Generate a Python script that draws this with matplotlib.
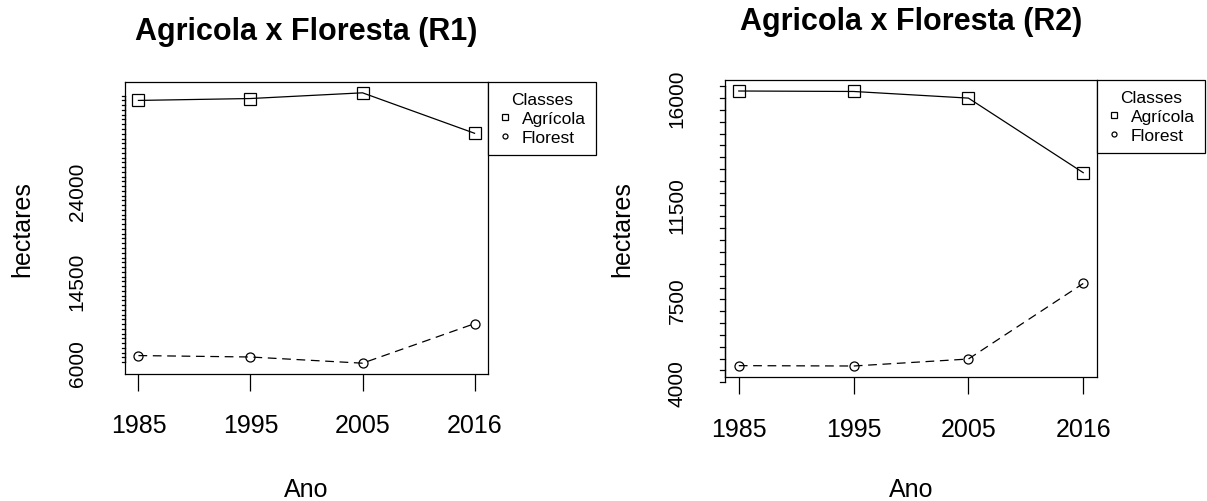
import matplotlib
matplotlib.use("Agg")
import matplotlib.pyplot as plt
from matplotlib.lines import Line2D
import numpy as np

plt.rcParams['font.family'] = ['Liberation Sans', 'DejaVu Sans']

years = ["1985", "1995", "2005", "2016"]
classes = ["Agrícola", "Florest"]

# Panel R1
r1_agricola = [33500, 33700, 34300, 30050]
r1_florest = [6700, 6550, 5900, 10050]
r1_ytick_labels = [6000, 14500, 24000]
r1_minor_start, r1_minor_stop, r1_minor_step = 6000, 34000, 500

# Panel R2
r2_agricola = [16300, 16280, 16000, 12850]
r2_florest = [4700, 4685, 4980, 8170]
r2_ytick_labels = [4000, 7500, 11500, 16000]
r2_minor_start, r2_minor_stop, r2_minor_step = 4000, 16500, 500

titles = ["Agricola x Floresta (R1)", "Agricola x Floresta (R2)"]

W, H = 1207, 502
fig = plt.figure(figsize=(W / 100, H / 100), dpi=100)


def px_axes(l, t, r, b):
    return fig.add_axes([l / W, 1 - b / H, (r - l) / W, (b - t) / H])


def rext(vals):
    lo, hi = min(vals), max(vals)
    d = (hi - lo) * 0.04
    return lo - d, hi + d


def panel(ax, agr, flo, ylabels, tstart, tstop, tstep, ytick_len_px, ylab_off_px,
          xpad, title, title_y, hect_x, ano_y):
    x = np.arange(1, len(years) + 1)
    ax.plot(x, agr, color='black', lw=0.9, marker='s', ms=8.6, mfc='none',
            mec='black', mew=0.9)
    ax.plot(x, flo, color='black', lw=0.9, ls=(0, (7, 4.5)), marker='o', ms=6.5,
            mfc='none', mec='black', mew=0.9)
    ax.set_xlim(0.88, 4.12)
    ax.set_ylim(*rext(list(agr) + list(flo)))
    for s in ax.spines.values():
        s.set_linewidth(0.9)
    ax.set_xticks(x, years, fontsize=18)
    ax.tick_params(axis='x', length=12.2, width=0.9, pad=xpad)
    ax.set_yticks([])
    # R-style y axis drawn in data coords (may extend beyond the box)
    bbox = ax.get_position()
    ax_w_px = bbox.width * W
    tl = ytick_len_px / ax_w_px
    tr = ax.get_yaxis_transform()
    ticks = np.arange(tstart, tstop + 1, tstep)
    ax.plot([0, 0], [ticks[0], ticks[-1]], color='black', lw=0.9,
            transform=tr, clip_on=False)
    for v in ticks:
        ax.plot([-tl, 0], [v, v], color='black', lw=0.9, transform=tr,
                clip_on=False)
    for v in ylabels:
        ax.text(-ylab_off_px / ax_w_px, v, str(v), rotation=90, ha='center',
                va='center', fontsize=15, transform=tr)
    cx = bbox.x0 + bbox.width / 2
    fig.text(cx, 1 - title_y / H, title, ha='center', va='center',
             fontsize=22, fontweight='bold')
    fig.text(hect_x / W, bbox.y0 + bbox.height / 2, "hectares", rotation=90,
             ha='center', va='center', fontsize=18)
    fig.text(cx, 1 - ano_y / H, "Ano", ha='center', va='center', fontsize=18)
    handles = [Line2D([], [], ls='none', marker='s', ms=5, mfc='none',
                      mec='black', mew=0.9),
               Line2D([], [], ls='none', marker='o', ms=3.6, mfc='none',
                      mec='black', mew=0.9)]
    leg = ax.legend(handles, classes, title="Classes", loc='upper left',
                    bbox_to_anchor=(1.0, 1.0), borderaxespad=0, fontsize=12.5,
                    title_fontsize=12.5, frameon=True, fancybox=False,
                    edgecolor='black', framealpha=1, handlelength=0.8,
                    handletextpad=0.55, borderpad=0.6, labelspacing=0.2)
    leg.get_frame().set_linewidth(0.9)
    leg.set_clip_on(False)


ax1 = px_axes(125, 83, 488, 375)
panel(ax1, r1_agricola, r1_florest, r1_ytick_labels, r1_minor_start,
      r1_minor_stop, r1_minor_step, 3, 48, 15.6, titles[0], 32, 22, 490)

ax2 = px_axes(725, 81, 1097, 378)
panel(ax2, r2_agricola, r2_florest, r2_ytick_labels, r2_minor_start,
      r2_minor_stop, r2_minor_step, 5, 48, 16.3, titles[1], 22, 622, 490)

fig.savefig("out.png", dpi=100)
